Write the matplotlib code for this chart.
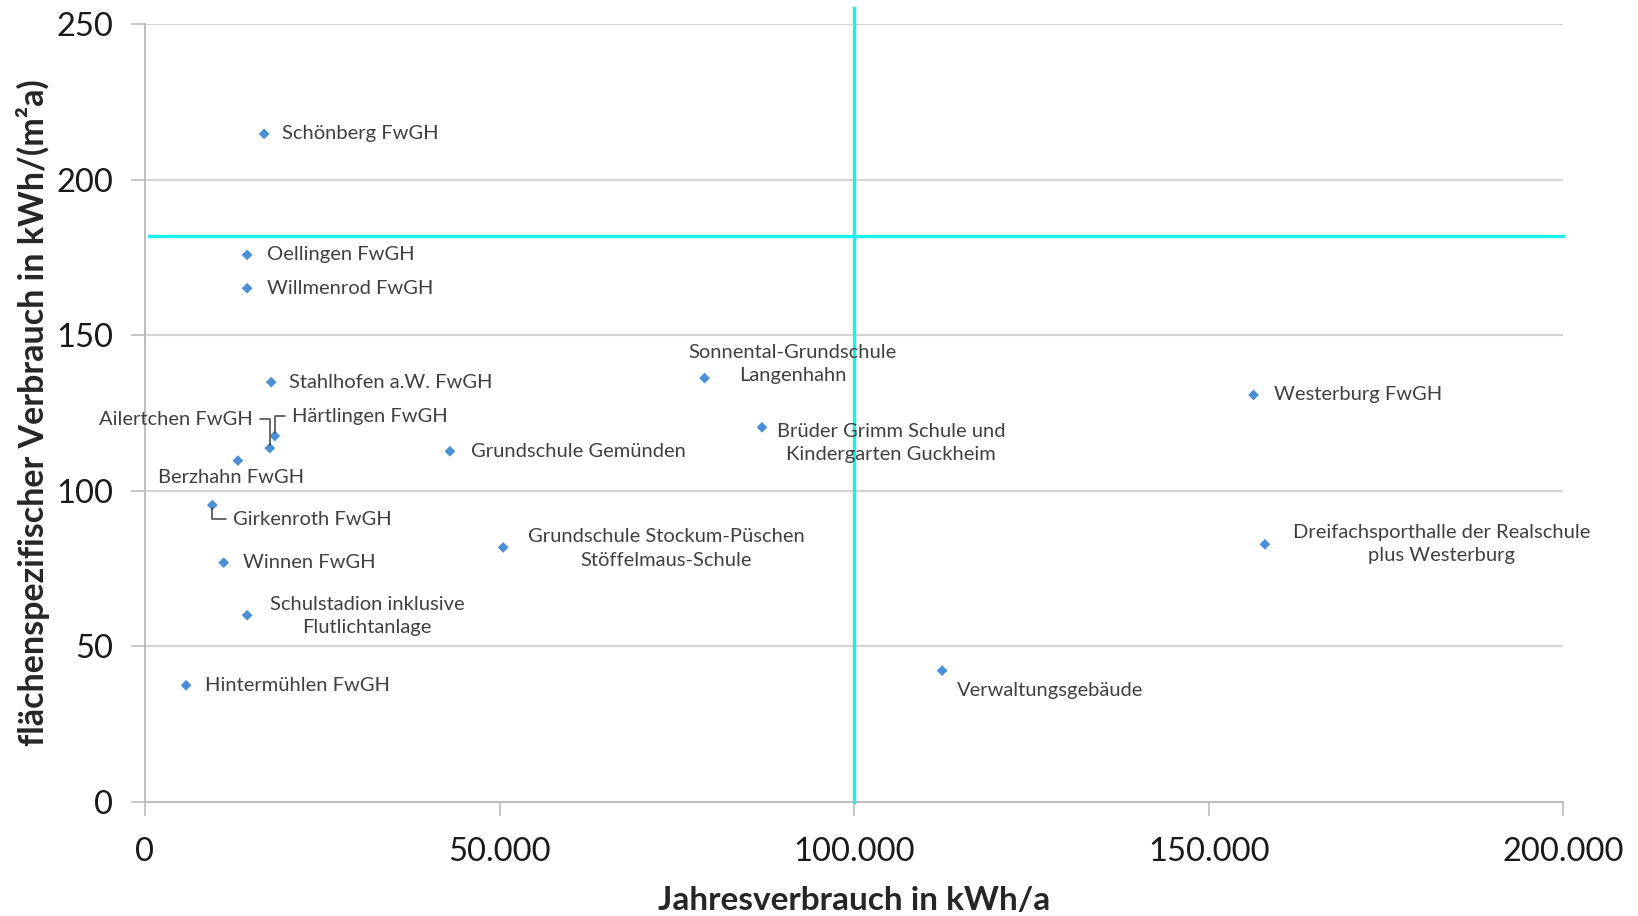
import matplotlib as mpl
import matplotlib.pyplot as plt
from matplotlib.ticker import FuncFormatter, MultipleLocator

mpl.rcParams.update({
    "font.family": ["Lato", "DejaVu Sans"],
    "axes.spines.right": False,
    "axes.spines.top": False,
})

# Jahresverbrauch (kWh/a) and flächenspezifischer Verbrauch (kWh/(m²a))
names = [
    "Schönberg FwGH", "Oellingen FwGH", "Willmenrod FwGH", "Stahlhofen a.W. FwGH",
    "Härtlingen FwGH", "Ailertchen FwGH", "Berzhahn FwGH", "Girkenroth FwGH",
    "Winnen FwGH", "Schulstadion inklusive\nFlutlichtanlage", "Hintermühlen FwGH",
    "Grundschule Gemünden", "Grundschule Stockum-Püschen\nStöffelmaus-Schule",
    "Sonnental-Grundschule\nLangenhahn", "Brüder Grimm Schule und\nKindergarten Guckheim",
    "Westerburg FwGH", "Dreifachsporthalle der Realschule\nplus Westerburg",
    "Verwaltungsgebäude",
]
jahresverbrauch = [16800, 14400, 14400, 17800, 18300, 17600, 13100, 9500, 11100,
                   14400, 5800, 43000, 50500, 78900, 87000, 156300, 157900, 112400]
spez_verbrauch = [214.7, 175.8, 165.1, 134.9, 117.6, 113.7, 109.7, 95.4, 76.9,
                  60.0, 37.5, 112.7, 81.8, 136.2, 120.4, 130.8, 82.8, 42.2]

# reference lines (mean values)
ref_x = 100000
ref_y = 182

# label placement: offset in pixels, alignment, leader style
label_style = [
    ((18, 0), "left", None), ((20, 0), "left", None), ((20, 0), "left", None),
    ((18, 0), "left", None), ((17, 20), "left", "left"), ((-17, 29), "right", "right"),
    ((-7, -17), "center", None), ((21, -14), "left", "down"), ((19, 0), "left", None),
    ((120, -1), "center", None), ((19, 0), "left", None), ((21, 0), "left", None),
    ((163, -1), "center", None), ((88, 14), "center", None), ((129, -16), "center", None),
    ((20, 0), "left", None), ((177, 0), "center", None), ((15, -20), "left", None),
]

fig = plt.figure(figsize=(16.38, 9.16), dpi=100)
ax = fig.add_axes([0.0885, 0.1245, 0.866, 0.8493])

ax.set_xlim(0, 200000)
ax.set_ylim(0, 250)
ax.xaxis.set_major_locator(MultipleLocator(50000))
ax.yaxis.set_major_locator(MultipleLocator(50))
ax.xaxis.set_major_formatter(FuncFormatter(lambda v, p: f"{int(v):,}".replace(",", ".")))
ax.grid(axis="y", color="#D4D4D4", lw=1.6)
ax.set_axisbelow(True)
for s in ("left", "bottom"):
    ax.spines[s].set_color("#BDBDBD")
    ax.spines[s].set_linewidth(1.4)
ax.tick_params(axis="both", length=10, width=1.2, color="#BDBDBD", labelsize=23.5,
               labelcolor="#1A1A1A")
ax.tick_params(axis="x", pad=15)
ax.tick_params(axis="y", pad=13)

ax.plot([ref_x, ref_x], [0, 255], color="#19F0F0", lw=2.4, clip_on=False, zorder=3)
ax.plot([600, 200000], [ref_y, ref_y], color="#19F0F0", lw=2.4, clip_on=False, zorder=3)

ax.scatter(jahresverbrauch, spez_verbrauch, marker="D", s=30, color="#4A8FD8",
           edgecolors="none", zorder=4)

for name, x, y, (off, ha, leader) in zip(names, jahresverbrauch, spez_verbrauch, label_style):
    kw = dict(xy=(x, y), xytext=off, textcoords="offset pixels", ha=ha, va="center",
              fontsize=14.5, color="#404040", linespacing=1.45, zorder=5)
    if leader in ("left", "down"):
        kw["arrowprops"] = dict(arrowstyle="-", color="#404040", lw=1.1, shrinkA=3, shrinkB=2,
                                relpos=(0, 0.5),
                                connectionstyle="angle,angleA=180,angleB=90,rad=0")
    elif leader == "right":
        kw["arrowprops"] = dict(arrowstyle="-", color="#404040", lw=1.1, shrinkA=3, shrinkB=2,
                                relpos=(1, 0.5),
                                connectionstyle="angle,angleA=0,angleB=90,rad=0")
    ax.annotate(name, **kw)

ax.set_xlabel("Jahresverbrauch in kWh/a", fontsize=24, fontweight="bold", color="#262626",
              labelpad=14)
ax.set_ylabel("flächenspezifischer Verbrauch in kWh/(m²a)", fontsize=24.5, fontweight="bold",
              color="#262626", labelpad=4)

fig.savefig("out.png", dpi=100)
